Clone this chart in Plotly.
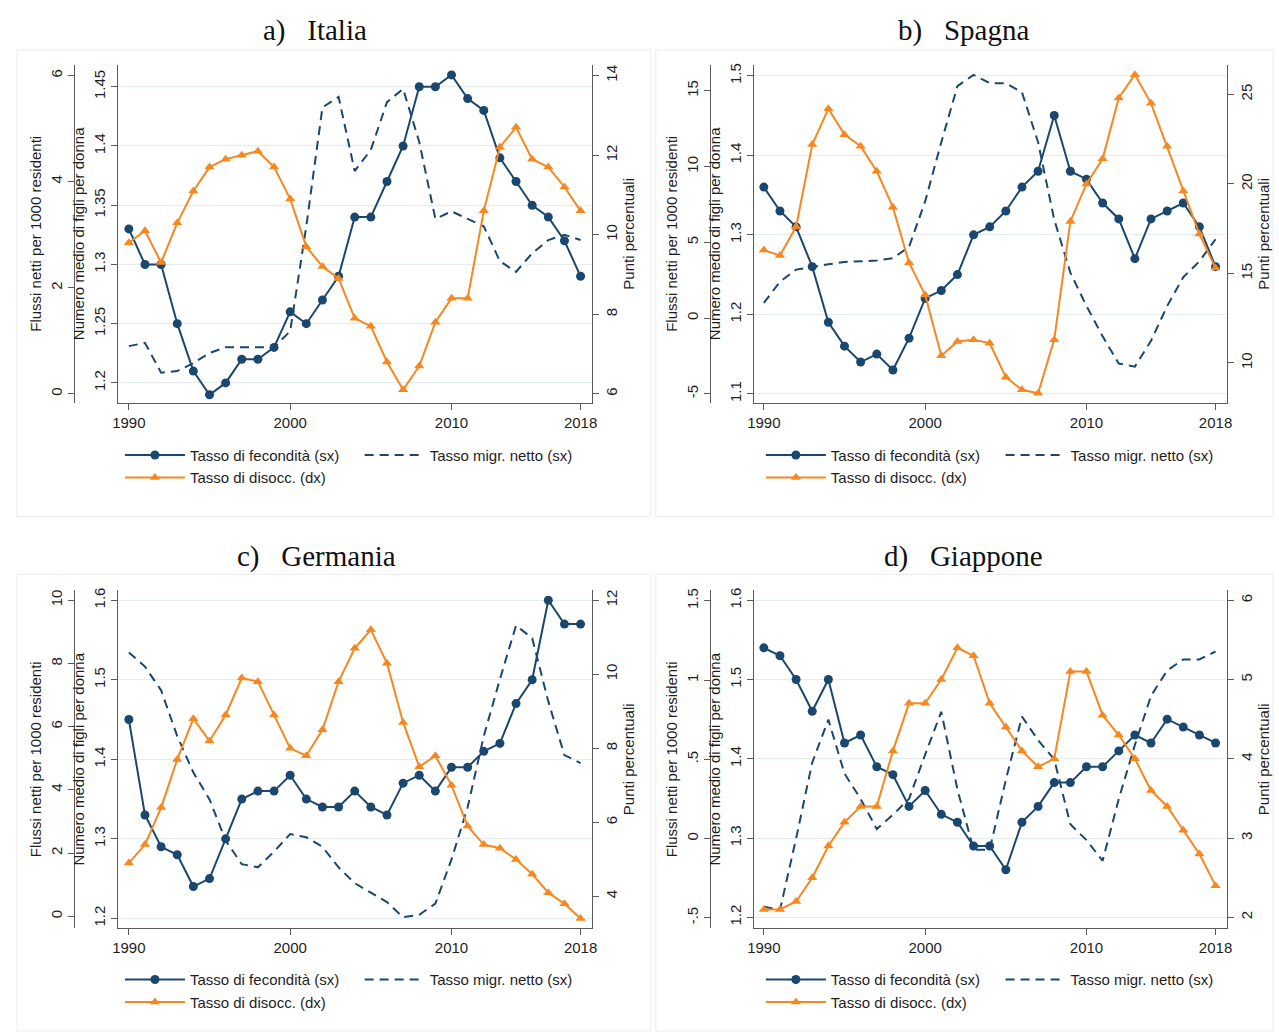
import plotly.graph_objects as go

W, H = 1279, 1032

# ---------------- data ----------------
years = [1990, 1991, 1992, 1993, 1994, 1995, 1996, 1997, 1998, 1999,
         2000, 2001, 2002, 2003, 2004, 2005, 2006, 2007, 2008, 2009,
         2010, 2011, 2012, 2013, 2014, 2015, 2016, 2017, 2018]

ita_fert = [1.33, 1.30, 1.30, 1.25, 1.21, 1.19, 1.20, 1.22, 1.22, 1.23,
            1.26, 1.25, 1.27, 1.29, 1.34, 1.34, 1.37, 1.40, 1.45, 1.45,
            1.46, 1.44, 1.43, 1.39, 1.37, 1.35, 1.34, 1.32, 1.29]
ita_migr = [0.90, 0.96, 0.40, 0.43, 0.58, 0.77, 0.88, 0.88, 0.88, 0.88,
            1.18, 3.16, 5.40, 5.60, 4.20, 4.60, 5.50, 5.75, 4.75, 3.30,
            3.44, 3.30, 3.16, 2.50, 2.30, 2.65, 2.90, 3.00, 2.90]
ita_unemp = [9.8, 10.1, 9.3, 10.3, 11.1, 11.7, 11.9, 12.0, 12.1, 11.7,
             10.9, 9.7, 9.2, 8.9, 7.9, 7.7, 6.8, 6.1, 6.7, 7.8,
             8.4, 8.4, 10.6, 12.2, 12.7, 11.9, 11.7, 11.2, 10.6]

esp_fert = [1.36, 1.33, 1.31, 1.26, 1.19, 1.16, 1.14, 1.15, 1.13, 1.17,
            1.22, 1.23, 1.25, 1.30, 1.31, 1.33, 1.36, 1.38, 1.45, 1.38,
            1.37, 1.34, 1.32, 1.27, 1.32, 1.33, 1.34, 1.31, 1.26]
esp_migr = [1.0, 2.4, 3.2, 3.4, 3.55, 3.7, 3.75, 3.8, 3.95, 4.7,
            7.7, 11.6, 15.3, 16.05, 15.5, 15.5, 14.9, 11.6, 6.5, 3.0,
            0.8, -1.2, -3.0, -3.2, -1.5, 0.8, 2.7, 3.75, 5.2]
esp_unemp = [16.3, 16.0, 17.6, 22.2, 24.2, 22.75, 22.1, 20.7, 18.7, 15.6,
             13.8, 10.4, 11.2, 11.3, 11.1, 9.2, 8.5, 8.3, 11.3, 17.9,
             20.0, 21.4, 24.8, 26.1, 24.5, 22.1, 19.6, 17.2, 15.3]

deu_fert = [1.45, 1.33, 1.29, 1.28, 1.24, 1.25, 1.30, 1.35, 1.36, 1.36,
            1.38, 1.35, 1.34, 1.34, 1.36, 1.34, 1.33, 1.37, 1.38, 1.36,
            1.39, 1.39, 1.41, 1.42, 1.47, 1.50, 1.60, 1.57, 1.57]
deu_migr = [8.35, 7.9, 7.15, 5.7, 4.55, 3.7, 2.4, 1.65, 1.55, 2.05,
            2.6, 2.5, 2.2, 1.55, 1.05, 0.75, 0.45, -0.03, 0.05, 0.4,
            1.8, 3.45, 5.7, 7.5, 9.2, 8.8, 6.8, 5.1, 4.85]
deu_unemp = [4.9, 5.4, 6.4, 7.7, 8.8, 8.2, 8.9, 9.9, 9.8, 8.9,
             8.0, 7.8, 8.5, 9.8, 10.7, 11.2, 10.3, 8.7, 7.5, 7.8,
             7.0, 5.9, 5.4, 5.3, 5.0, 4.6, 4.1, 3.8, 3.4]

jpn_fert = [1.54, 1.53, 1.50, 1.46, 1.50, 1.42, 1.43, 1.39, 1.38, 1.34,
            1.36, 1.33, 1.32, 1.29, 1.29, 1.26, 1.32, 1.34, 1.37, 1.37,
            1.39, 1.39, 1.41, 1.43, 1.42, 1.45, 1.44, 1.43, 1.42]
jpn_migr = [-0.43, -0.45, 0.0, 0.48, 0.75, 0.41, 0.25, 0.06, 0.15, 0.25,
            0.53, 0.8, 0.31, -0.07, -0.07, 0.37, 0.77, 0.62, 0.5, 0.09,
            -0.01, -0.14, 0.25, 0.59, 0.9, 1.06, 1.13, 1.13, 1.18]
jpn_unemp = [2.1, 2.1, 2.2, 2.5, 2.9, 3.2, 3.4, 3.4, 4.1, 4.7,
             4.7, 5.0, 5.4, 5.3, 4.7, 4.4, 4.1, 3.9, 4.0, 5.1,
             5.1, 4.55, 4.3, 4.0, 3.6, 3.4, 3.1, 2.8, 2.4]

panel_titles = ["a)   Italia", "b)   Spagna", "c)   Germania", "d)   Giappone"]

x_ticks = [1990, 2000, 2010, 2018]

ita_fert_ticks = [1.2, 1.25, 1.3, 1.35, 1.4, 1.45]
ita_fert_labels = ["1.2", "1.25", "1.3", "1.35", "1.4", "1.45"]
ita_migr_ticks = [0, 2, 4, 6]
ita_migr_labels = ["0", "2", "4", "6"]
ita_unemp_ticks = [6, 8, 10, 12, 14]
ita_unemp_labels = ["6", "8", "10", "12", "14"]

esp_fert_ticks = [1.1, 1.2, 1.3, 1.4, 1.5]
esp_fert_labels = ["1.1", "1.2", "1.3", "1.4", "1.5"]
esp_migr_ticks = [-5, 0, 5, 10, 15]
esp_migr_labels = ["-5", "0", "5", "10", "15"]
esp_unemp_ticks = [10, 15, 20, 25]
esp_unemp_labels = ["10", "15", "20", "25"]

deu_fert_ticks = [1.2, 1.3, 1.4, 1.5, 1.6]
deu_fert_labels = ["1.2", "1.3", "1.4", "1.5", "1.6"]
deu_migr_ticks = [0, 2, 4, 6, 8, 10]
deu_migr_labels = ["0", "2", "4", "6", "8", "10"]
deu_unemp_ticks = [4, 6, 8, 10, 12]
deu_unemp_labels = ["4", "6", "8", "10", "12"]

jpn_fert_ticks = [1.2, 1.3, 1.4, 1.5, 1.6]
jpn_fert_labels = ["1.2", "1.3", "1.4", "1.5", "1.6"]
jpn_migr_ticks = [-0.5, 0, 0.5, 1, 1.5]
jpn_migr_labels = ["-.5", "0", ".5", "1", "1.5"]
jpn_unemp_ticks = [2, 3, 4, 5, 6]
jpn_unemp_labels = ["2", "3", "4", "5", "6"]

name_fert = "Tasso di fecondità (sx)"
name_migr = "Tasso migr. netto (sx)"
name_unemp = "Tasso di disocc. (dx)"
title_fert = "Numero medio di figli per donna"
title_migr = "Flussi netti per 1000 residenti"
title_unemp = "Punti percentuali"

# ---------------- layout geometry (pixels) ----------------
NAVY = "#1a476f"
ORANGE = "#f7871f"
AXC = "#5a5a5a"
TXT = "#1e1e1e"
SANS = "Liberation Sans, Arial, sans-serif"
SERIF = "Liberation Serif, Times New Roman, serif"

panels = [
    dict(fert=ita_fert, migr=ita_migr, unemp=ita_unemp,
         ft=(ita_fert_ticks, ita_fert_labels), mt=(ita_migr_ticks, ita_migr_labels),
         ut=(ita_unemp_ticks, ita_unemp_labels),
         x0=112, x1=591, xo=68, yt=62, yb=401, xr=[1989.325, 2018.737],
         fr=[1.1832, 1.4685], mr=[-0.169, 6.203], ur=[5.774, 14.271],
         box=(10, 47, 650, 515), tx=311, ty=28, lx=114, lx2=356, ly=437),
    dict(fert=esp_fert, migr=esp_migr, unemp=esp_unemp,
         ft=(esp_fert_ticks, esp_fert_labels), mt=(esp_migr_ticks, esp_migr_labels),
         ut=(esp_unemp_ticks, esp_unemp_labels),
         x0=754, x1=1232, xo=710, yt=62, yb=401, xr=[1989.386, 2018.737],
         fr=[1.0887, 1.5138], mr=[-5.59, 16.71], ur=[7.77, 26.65],
         box=(655, 47, 1278, 515), tx=966, ty=28, lx=761, lx2=1003, ly=437),
    dict(fert=deu_fert, migr=deu_migr, unemp=deu_unemp,
         ft=(deu_fert_ticks, deu_fert_labels), mt=(deu_migr_ticks, deu_migr_labels),
         ut=(deu_unemp_ticks, deu_unemp_labels),
         x0=112, x1=591, xo=68, yt=589, yb=928, xr=[1989.325, 2018.737],
         fr=[1.1875, 1.6125], mr=[-0.379, 10.315], ur=[3.138, 12.269],
         box=(10, 573, 650, 1031), tx=312, ty=555, lx=114, lx2=356, ly=963),
    dict(fert=jpn_fert, migr=jpn_migr, unemp=jpn_unemp,
         ft=(jpn_fert_ticks, jpn_fert_labels), mt=(jpn_migr_ticks, jpn_migr_labels),
         ut=(jpn_unemp_ticks, jpn_unemp_labels),
         x0=754, x1=1232, xo=710, yt=589, yb=928, xr=[1989.386, 2018.737],
         fr=[1.1862, 1.6126], mr=[-0.566, 1.566], ur=[1.862, 6.126],
         box=(655, 573, 1278, 1031), tx=966, ty=555, lx=761, lx2=1003, ly=963),
]

fig = go.Figure()
layout = dict(width=W, height=H, margin=dict(l=0, r=0, t=0, b=0),
              paper_bgcolor="white", plot_bgcolor="white",
              font=dict(family=SANS, size=15, color=TXT),
              showlegend=True, shapes=[], annotations=[])

tickfont = dict(family=SANS, size=15, color=TXT)
titlefont = dict(family=SANS, size=15, color=TXT)

for i, p in enumerate(panels):
    k = i + 1
    xa = "x" if k == 1 else f"x{k}"
    yf_n, ym_n, yu_n = 3 * k - 2, 3 * k - 1, 3 * k
    yf = "y" if yf_n == 1 else f"y{yf_n}"
    ym, yu = f"y{ym_n}", f"y{yu_n}"
    legA = "legend" if k == 1 else f"legend{2 * k - 1}"
    legB = f"legend{2 * k}"

    fig.add_trace(go.Scatter(x=years, y=p["migr"], xaxis=xa, yaxis=ym, mode="lines",
                             name=name_migr, legend=legB, legendgroup=f"m{k}",
                             line=dict(color=NAVY, width=2, dash="9px,6px")))
    fig.add_trace(go.Scatter(x=years, y=p["unemp"], xaxis=xa, yaxis=yu, mode="lines+markers",
                             name=name_unemp, legend=legA, legendrank=2, legendgroup=f"u{k}",
                             line=dict(color=ORANGE, width=2),
                             marker=dict(symbol="triangle-up", size=9, color=ORANGE)))
    fig.add_trace(go.Scatter(x=years, y=p["fert"], xaxis=xa, yaxis=yf, mode="lines+markers",
                             name=name_fert, legend=legA, legendrank=1, legendgroup=f"f{k}",
                             line=dict(color=NAVY, width=2),
                             marker=dict(symbol="circle", size=9, color=NAVY)))

    xkey = "xaxis" if k == 1 else f"xaxis{k}"
    layout[xkey] = dict(domain=[p["x0"] / W, p["x1"] / W], range=p["xr"], anchor=yf,
                        tickmode="array", tickvals=x_ticks, ticks="outside", ticklen=6,
                        tickcolor=AXC, showline=True, linecolor=AXC, linewidth=1,
                        showgrid=False, zeroline=False, tickfont=tickfont)
    common = dict(ticks="outside", ticklen=6, tickcolor=AXC, showline=True, linecolor=AXC,
                  linewidth=1, zeroline=False, tickfont=tickfont, tickangle=-90,
                  tickmode="array")
    yfkey = "yaxis" if k == 1 else f"yaxis{yf_n}"
    layout[yfkey] = dict(domain=[1 - p["yb"] / H, 1 - p["yt"] / H], range=p["fr"], anchor=xa,
                         side="left", tickvals=p["ft"][0], ticktext=p["ft"][1],
                         showgrid=True, gridcolor="#e4ecee", gridwidth=1,
                         title=dict(text=title_fert, font=titlefont, standoff=2), **common)
    layout[f"yaxis{ym_n}"] = dict(overlaying=yf, anchor="free", position=p["xo"] / W,
                                  side="left", range=p["mr"], tickvals=p["mt"][0],
                                  ticktext=p["mt"][1], showgrid=False,
                                  title=dict(text=title_migr, font=titlefont, standoff=2),
                                  **common)
    layout[f"yaxis{yu_n}"] = dict(overlaying=yf, anchor=xa, side="right", range=p["ur"],
                                  tickvals=p["ut"][0], ticktext=p["ut"][1], showgrid=False,
                                  title=dict(text=title_unemp, font=titlefont, standoff=2),
                                  **common)

    legcommon = dict(yanchor="top", xanchor="left", bgcolor="rgba(0,0,0,0)",
                     borderwidth=0, font=dict(family=SANS, size=15, color=TXT),
                     orientation="v", traceorder="normal", itemclick=False,
                     itemdoubleclick=False, itemwidth=60, tracegroupgap=2)
    layout[legA] = dict(x=p["lx"] / W, y=1 - p["ly"] / H, **legcommon)
    layout[legB] = dict(x=p["lx2"] / W, y=1 - p["ly"] / H, **legcommon)

    bx0, by0, bx1, by1 = p["box"]
    layout["shapes"].append(dict(type="rect", xref="paper", yref="paper",
                                 x0=bx0 / W, x1=bx1 / W, y0=1 - by1 / H, y1=1 - by0 / H,
                                 line=dict(color="#ececec", width=1),
                                 fillcolor="rgba(0,0,0,0)", layer="below"))
    layout["annotations"].append(dict(text=panel_titles[i].replace(" ", "\u00a0"),
                                      xref="paper", yref="paper", x=p["tx"] / W,
                                      y=1 - p["ty"] / H, xanchor="center", yanchor="middle",
                                      showarrow=False,
                                      font=dict(family=SERIF, size=29, color="#111")))

fig.update_layout(**layout)
fig.write_html("out.html", config={"displayModeBar": False},
               post_script="document.body.style.margin='0';")
